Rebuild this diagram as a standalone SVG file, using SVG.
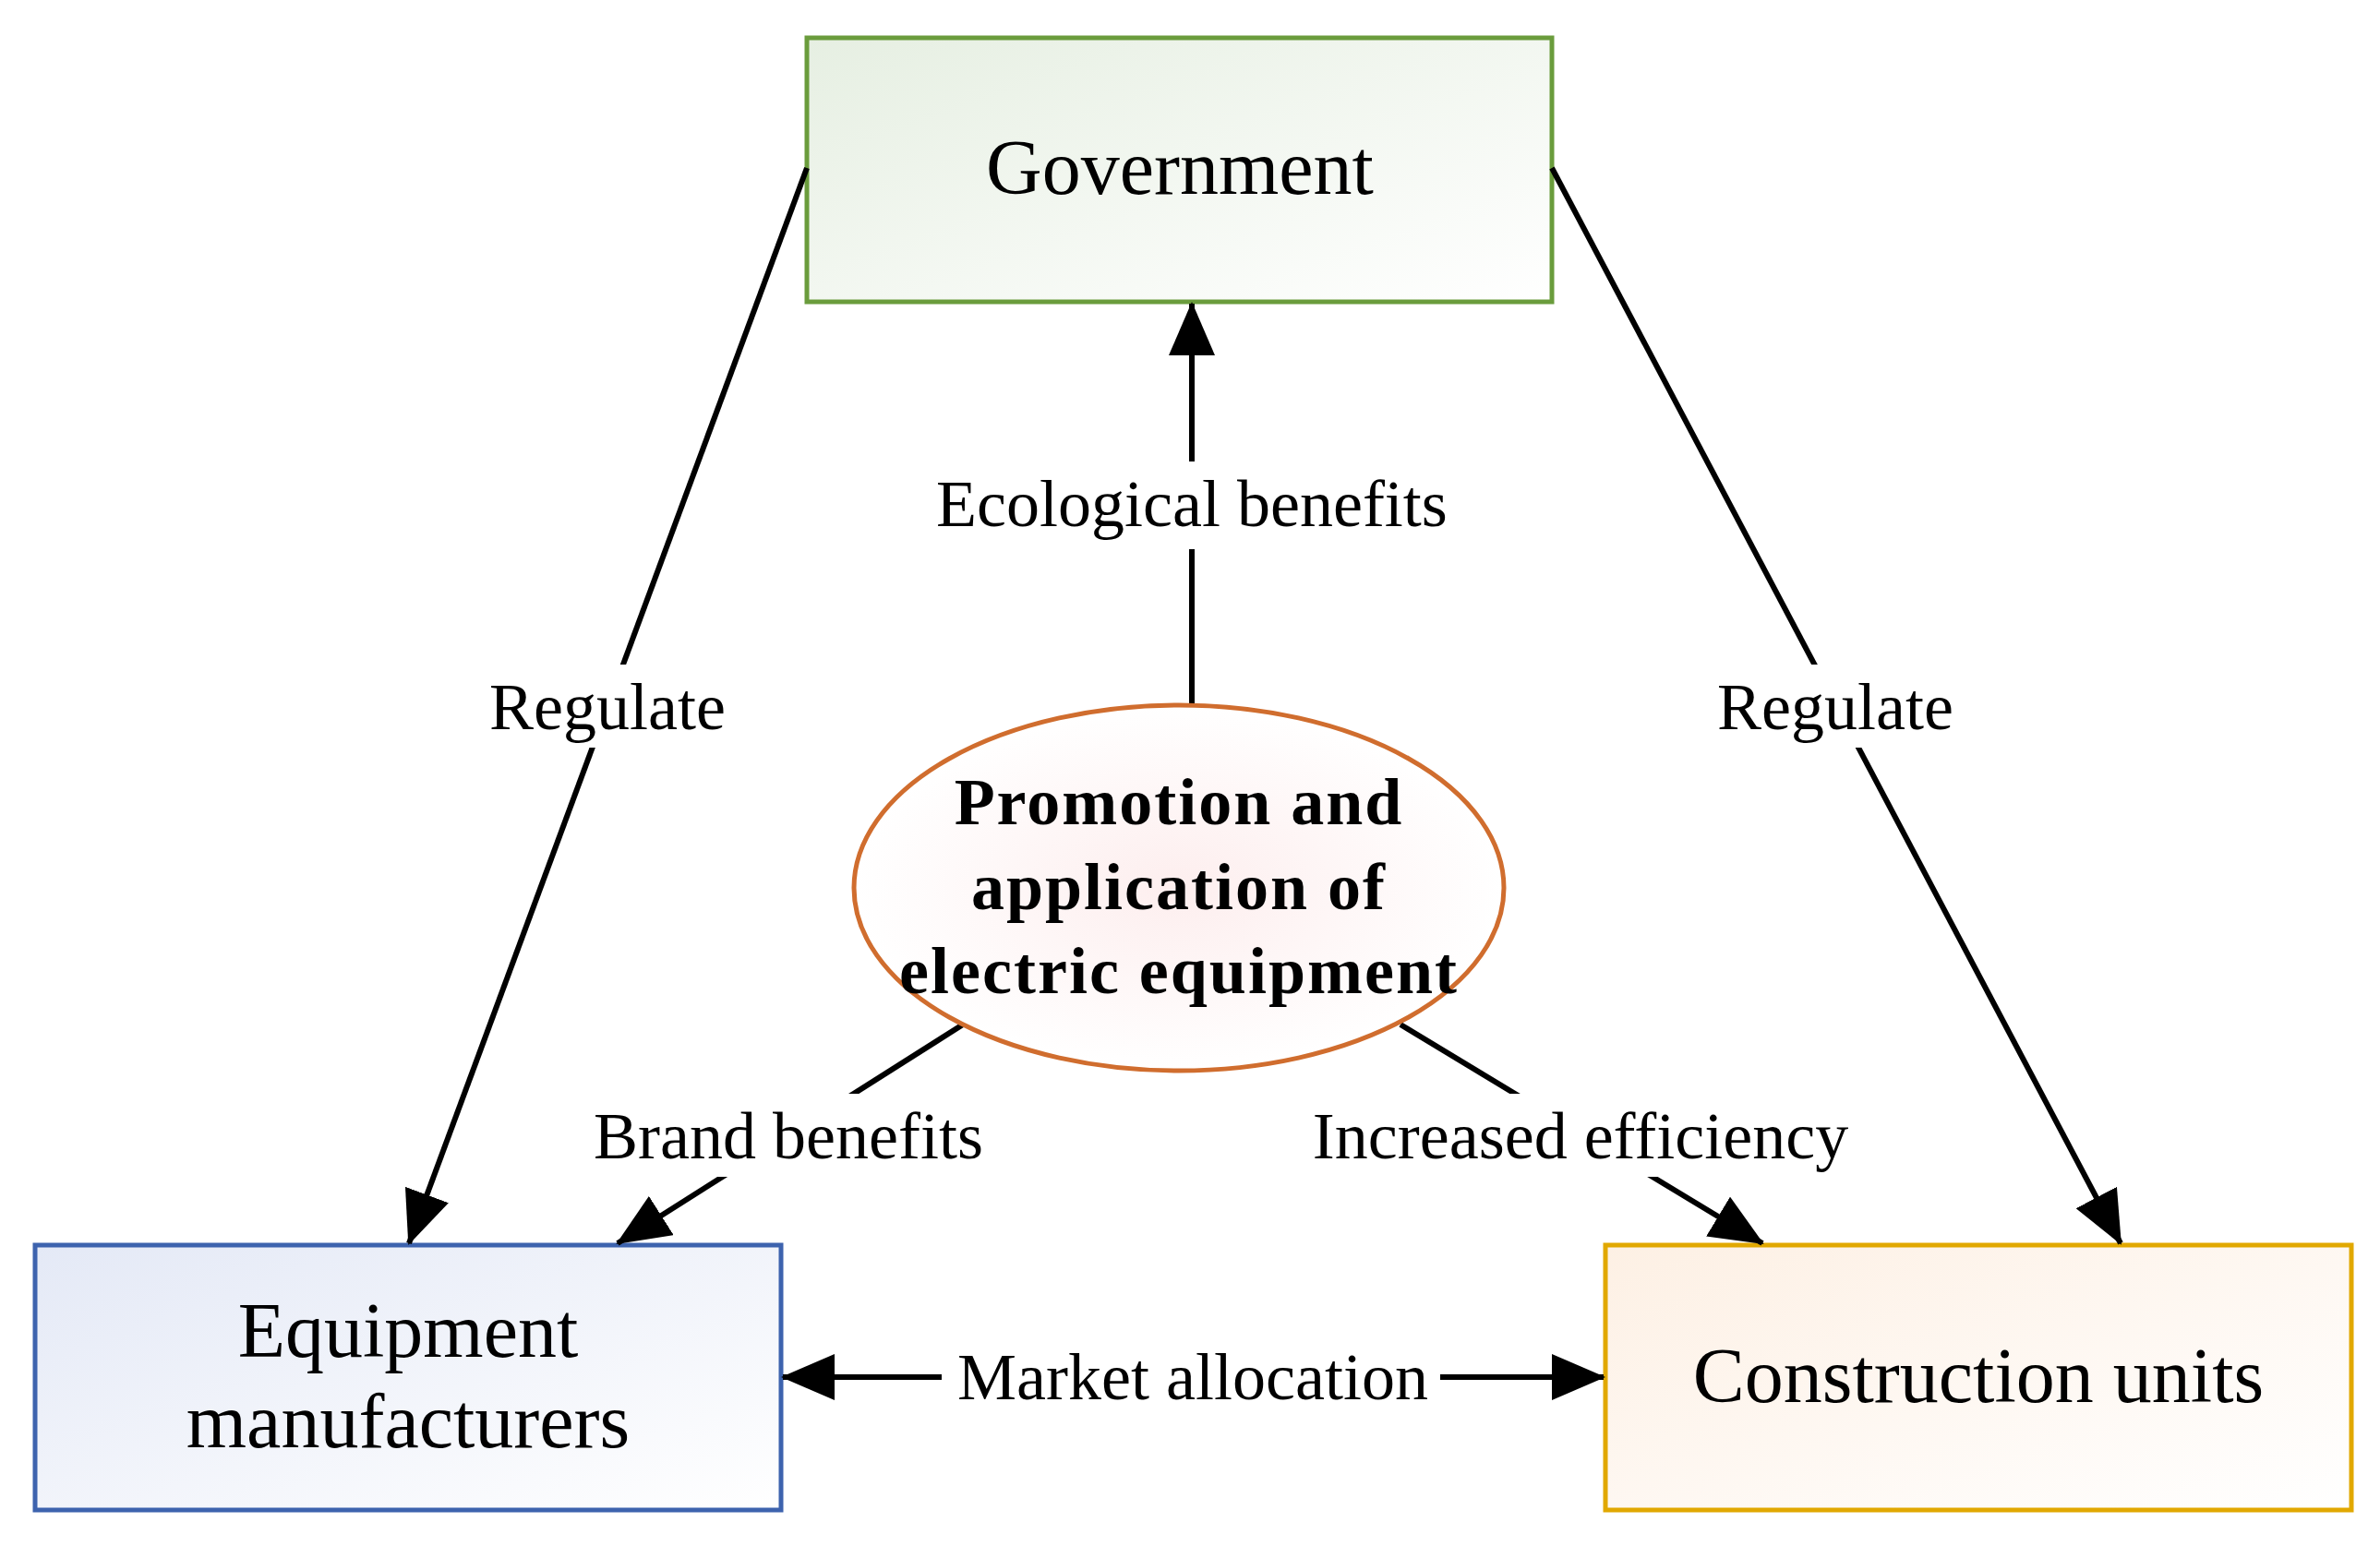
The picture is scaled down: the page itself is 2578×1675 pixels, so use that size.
<svg xmlns="http://www.w3.org/2000/svg" width="2578" height="1675" viewBox="0 0 2578 1675">
<style>
text{font-family:"Liberation Serif",serif;fill:#000;text-anchor:middle}
.n{font-size:84px}
.l{font-size:72px}
.c{stroke:#000;stroke-width:6;fill:none}
.bg{fill:#fff}
</style>
<defs>
<marker id="a" markerUnits="userSpaceOnUse" markerWidth="60" markerHeight="50" refX="56" refY="25" orient="auto-start-reverse"><path d="M0,0 L58,25 L0,50 Z" fill="#000"/></marker>
<linearGradient id="g1" x1="0" y1="0" x2="1" y2="1"><stop offset="0" stop-color="#e6efe2"/><stop offset="1" stop-color="#fff"/></linearGradient>
<linearGradient id="g2" x1="0" y1="0" x2="1" y2="1"><stop offset="0" stop-color="#e4e9f6"/><stop offset="1" stop-color="#fff"/></linearGradient>
<linearGradient id="g3" x1="0" y1="0" x2="1" y2="1"><stop offset="0" stop-color="#fdf0e4"/><stop offset="1" stop-color="#fff"/></linearGradient>
<radialGradient id="g4"><stop offset="0" stop-color="#fdeeee"/><stop offset="1" stop-color="#fff"/></radialGradient>
</defs>
<rect width="2578" height="1675" fill="#fff"/>
<g id="government"><rect x="874" y="41" width="807" height="286" fill="url(#g1)" stroke="#6a9c3c" stroke-width="5"/><text class="n" x="1278" y="210">Government</text></g>
<g id="equipment"><rect x="38" y="1349" width="808" height="287" fill="url(#g2)" stroke="#3d63ae" stroke-width="5"/><text class="n" x="442" y="1470">Equipment</text><text class="n" x="442" y="1568">manufacturers</text></g>
<g id="construction"><rect x="1739" y="1349" width="808" height="287" fill="url(#g3)" stroke="#e1a800" stroke-width="5"/><text class="n" x="2143" y="1519">Construction units</text></g>
<g id="connectors">
<line class="c" x1="874" y1="182" x2="443" y2="1347" marker-end="url(#a)"/>
<line class="c" x1="1681" y1="182" x2="2297" y2="1347" marker-end="url(#a)"/>
<line class="c" x1="1291" y1="765" x2="1291" y2="329" marker-end="url(#a)"/>
<line class="c" x1="1043" y1="1110" x2="669" y2="1347" marker-end="url(#a)"/>
<line class="c" x1="1517" y1="1110" x2="1909" y2="1347" marker-end="url(#a)"/>
<line class="c" x1="848" y1="1492" x2="1737" y2="1492" marker-start="url(#a)" marker-end="url(#a)"/>
<rect class="bg" x="510" y="720" width="296" height="90"/><text class="l" x="658" y="790">Regulate</text>
<rect class="bg" x="1840" y="720" width="296" height="90"/><text class="l" x="1988" y="790">Regulate</text>
<rect class="bg" x="990" y="500" width="604" height="95"/><text class="l" x="1291" y="570">Ecological benefits</text>
<rect class="bg" x="625" y="1185" width="458" height="90"/><text class="l" x="854" y="1255">Brand benefits</text>
<rect class="bg" x="1400" y="1185" width="624" height="90"/><text class="l" x="1712" y="1255">Increased efficiency</text>
<rect class="bg" x="1020" y="1447" width="540" height="90"/><text class="l" x="1292" y="1516">Market allocation</text>
</g>
<g id="promotion"><ellipse cx="1277" cy="962" rx="352" ry="198" fill="url(#g4)" stroke="#d06d2e" stroke-width="5"/>
<text class="l" font-weight="bold" font-size="66" x="1277" y="893" letter-spacing="2">Promotion and</text>
<text class="l" font-weight="bold" font-size="66" x="1277" y="985" letter-spacing="2">application of</text>
<text class="l" font-weight="bold" font-size="66" x="1277" y="1076" letter-spacing="2">electric equipment</text></g>
</svg>
